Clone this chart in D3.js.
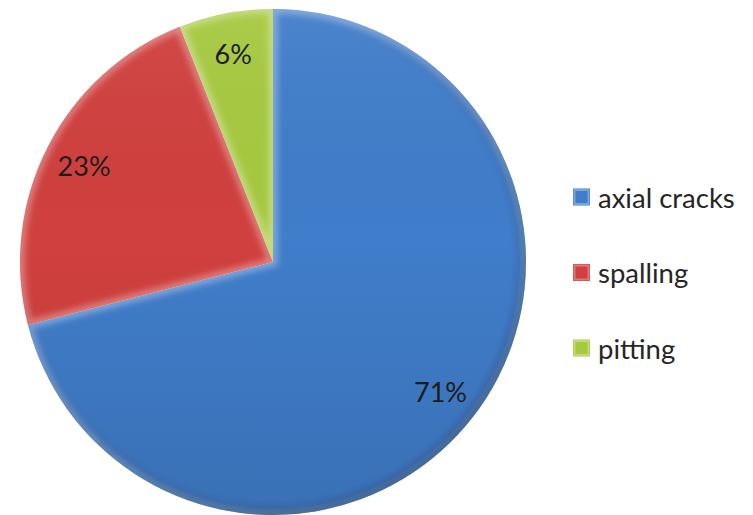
<!DOCTYPE html>
<html>
<head>
<meta charset="utf-8">
<script src="https://cdn.jsdelivr.net/npm/d3@7"></script>
<style>
  html, body { margin: 0; padding: 0; background: #ffffff; }
  svg { display: block; }
</style>
</head>
<body>
<script>
// Defect shares (percent)
const categories = ["axial cracks", "spalling", "pitting"];
const values = [71, 23, 6];
const colors = ["#407dca", "#d0403e", "#a6c93f"];

const width = 753, height = 515;
const cx = 273, cy = 262, radius = 253;

const svg = d3.select("body").append("svg")
  .attr("width", width)
  .attr("height", height);

const defs = svg.append("defs");

const soft = defs.append("filter").attr("id", "soft")
  .attr("x", "-20%").attr("y", "-20%").attr("width", "140%").attr("height", "140%");
soft.append("feGaussianBlur").attr("stdDeviation", 3);

const softer = defs.append("filter").attr("id", "softer")
  .attr("x", "-20%").attr("y", "-20%").attr("width", "140%").attr("height", "140%");
softer.append("feGaussianBlur").attr("stdDeviation", 4);

// vertical shading: a touch darker toward the bottom of the pie
const shade = defs.append("linearGradient").attr("id", "shade")
  .attr("x1", 0).attr("y1", 0).attr("x2", 0).attr("y2", 1);
shade.append("stop").attr("offset", "0%").attr("stop-color", "#ffffff").attr("stop-opacity", 0.06);
shade.append("stop").attr("offset", "45%").attr("stop-color", "#000000").attr("stop-opacity", 0);
shade.append("stop").attr("offset", "100%").attr("stop-color", "#000000").attr("stop-opacity", 0.1);

// rim shading: clear on the upper left, dark on the lower right
const rim = defs.append("linearGradient").attr("id", "rim")
  .attr("gradientUnits", "userSpaceOnUse")
  .attr("x1", cx - radius * 0.3).attr("y1", cy - radius * 0.5)
  .attr("x2", cx + radius * 0.7).attr("y2", cy + radius * 0.7);
rim.append("stop").attr("offset", "0%").attr("stop-color", "#0a1a3a").attr("stop-opacity", 0);
rim.append("stop").attr("offset", "100%").attr("stop-color", "#0a1a3a").attr("stop-opacity", 0.45);

const pie = d3.pie().sort(null).value(d => d);
const arcs = pie(values);

const arc = d3.arc().innerRadius(0).outerRadius(radius);
const labelArc = d3.arc().innerRadius(212).outerRadius(212);

const g = svg.append("g").attr("transform", `translate(${cx},${cy})`);

// clip paths, one per slice
arcs.forEach((d, i) => {
  defs.append("clipPath").attr("id", "clip" + i)
    .append("path").attr("d", arc(d))
    .attr("transform", `translate(${cx},${cy})`);
});

g.selectAll("path.slice")
  .data(arcs)
  .join("path")
  .attr("class", "slice")
  .attr("d", arc)
  .attr("fill", (d, i) => colors[i]);

g.append("circle")
  .attr("r", radius)
  .attr("fill", "url(#shade)");

// bevel: light inner glow along slice edges, dark shading on the lower-right rim
const bevels = svg.selectAll("g.bevel")
  .data(arcs)
  .join("g")
  .attr("class", "bevel")
  .attr("clip-path", (d, i) => `url(#clip${i})`);

bevels.append("path")
  .attr("transform", `translate(${cx},${cy})`)
  .attr("d", arc)
  .attr("fill", "none")
  .attr("stroke", "#ffffff")
  .attr("stroke-opacity", 0.33)
  .attr("stroke-width", 9)
  .attr("filter", "url(#soft)");

bevels.append("circle")
  .attr("cx", cx).attr("cy", cy).attr("r", radius)
  .attr("fill", "none")
  .attr("stroke", "url(#rim)")
  .attr("stroke-width", 12)
  .attr("filter", "url(#softer)");

g.selectAll("text.pct")
  .data(arcs)
  .join("text")
  .attr("class", "pct")
  .attr("transform", d => `translate(${labelArc.centroid(d)})`)
  .attr("text-anchor", "middle")
  .attr("dominant-baseline", "central")
  .attr("font-family", "Lato, 'Open Sans', sans-serif")
  .attr("font-size", 27)
  .attr("fill", "#1c1c1c")
  .text(d => d.data + "%");

// Legend
const legend = svg.append("g").attr("transform", "translate(573,197)");
const rows = legend.selectAll("g.row")
  .data(categories)
  .join("g")
  .attr("class", "row")
  .attr("transform", (d, i) => `translate(0,${i * 75.5})`);

rows.append("rect")
  .attr("x", 0).attr("y", -8.5)
  .attr("width", 17).attr("height", 17)
  .attr("fill", (d, i) => colors[i]);

rows.append("rect")
  .attr("x", 1.5).attr("y", -7)
  .attr("width", 14).attr("height", 14)
  .attr("fill", "none")
  .attr("stroke", "#ffffff")
  .attr("stroke-opacity", 0.3)
  .attr("stroke-width", 2);

rows.append("text")
  .attr("x", 25).attr("y", 0)
  .attr("dominant-baseline", "central")
  .attr("font-family", "Lato, 'Open Sans', sans-serif")
  .attr("font-size", 27.5)
  .attr("fill", "#262626")
  .text(d => d);
</script>
</body>
</html>
